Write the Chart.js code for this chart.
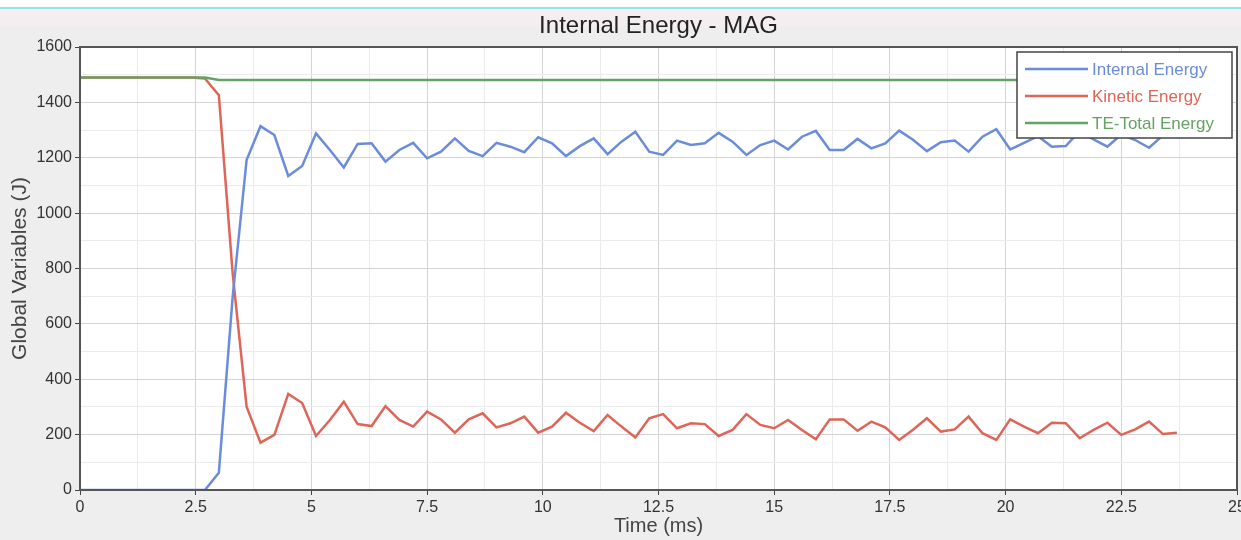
<!DOCTYPE html>
<html>
<head>
<meta charset="utf-8">
<script src="https://cdn.jsdelivr.net/npm/chart.js@4.4.1/dist/chart.umd.min.js"></script>
<style>
  html, body {
    margin: 0;
    padding: 0;
    width: 1241px;
    height: 540px;
    overflow: hidden;
    font-family: 'Liberation Sans', Arial, sans-serif;
    background: linear-gradient(to bottom, #ffffff 0 7px, #93e6e3 7px 9px, #f4eef1 9px 26px, #eeeeee 26px);
  }
  #wrap { position: relative; width: 1241px; height: 540px; }
</style>
</head>
<body>
<div id="wrap"><canvas id="energyChart"></canvas></div>
<script>
// values (time step ~0.3 ms)
const timeMs = [
  0, 0.3, 0.6, 0.9, 1.2, 1.5, 1.8, 2.1, 2.4, 2.7,
  3.0, 3.3, 3.6, 3.9, 4.2, 4.5, 4.8, 5.1, 5.4, 5.7,
  6.0, 6.3, 6.6, 6.9, 7.2, 7.5, 7.8, 8.1, 8.4, 8.7,
  9.0, 9.3, 9.6, 9.9, 10.2, 10.5, 10.8, 11.1, 11.4, 11.7,
  12.0, 12.3, 12.6, 12.9, 13.2, 13.5, 13.8, 14.1, 14.4, 14.7,
  15.0, 15.3, 15.6, 15.9, 16.2, 16.5, 16.8, 17.1, 17.4, 17.7,
  18.0, 18.3, 18.6, 18.9, 19.2, 19.5, 19.8, 20.1, 20.4, 20.7,
  21.0, 21.3, 21.6, 21.9, 22.2, 22.5, 22.8, 23.1, 23.4, 23.7,
];

const internalEnergy = [
  0, 0, 0, 0, 0, 0, 0, 0, 0, 0,
  62, 700, 1192, 1314, 1282, 1134, 1170, 1288, 1228, 1165,
  1250, 1252, 1186, 1228, 1254, 1198, 1222, 1270, 1225, 1206,
  1254, 1240, 1220, 1274, 1252, 1206, 1242, 1270, 1213, 1258,
  1294, 1222, 1210, 1262, 1246, 1252, 1290, 1258, 1210, 1246,
  1262, 1230, 1276, 1297, 1228, 1228, 1268, 1234, 1252, 1298,
  1265, 1224, 1256, 1262, 1222, 1276, 1303, 1230, 1254, 1278,
  1240, 1242, 1296, 1266, 1240, 1284, 1264, 1236, 1281, 1276,
];

const kineticEnergy = [
  1490, 1490, 1490, 1490, 1490, 1490, 1490, 1490, 1490, 1486,
  1426, 780, 301, 171, 199, 347, 314, 195, 253, 319,
  238, 231, 303, 253, 229, 283, 255, 207, 255, 277,
  226, 241, 265, 207, 229, 279, 243, 213, 271, 229,
  190, 259, 274, 223, 241, 238, 195, 217, 274, 235,
  223, 253, 217, 183, 255, 255, 214, 247, 226, 181,
  218, 259, 211, 219, 265, 205, 181, 255, 229, 205,
  243, 241, 187, 217, 243, 199, 219, 247, 202, 207,
];

const totalEnergy = [
  1490, 1490, 1490, 1490, 1490, 1490, 1490, 1490, 1490, 1490,
  1481, 1481, 1481, 1481, 1481, 1481, 1481, 1481, 1481, 1481,
  1481, 1481, 1481, 1481, 1481, 1481, 1481, 1481, 1481, 1481,
  1481, 1481, 1481, 1481, 1481, 1481, 1481, 1481, 1481, 1481,
  1481, 1481, 1481, 1481, 1481, 1481, 1481, 1481, 1481, 1481,
  1481, 1481, 1481, 1481, 1481, 1481, 1481, 1481, 1481, 1481,
  1481, 1481, 1481, 1481, 1481, 1481, 1481, 1481, 1481, 1481,
  1481, 1481, 1481, 1481, 1481, 1481, 1481, 1481, 1481, 1481,
];

const seriesNames = ['Internal Energy', 'Kinetic Energy', 'TE-Total Energy'];
const seriesColors = ['#6a8cda', '#de6557', '#66a266'];
const chartTitle = 'Internal Energy - MAG';

const toPoints = (ys) => ys.map((y, i) => ({ x: timeMs[i], y }));

const isMultiple = (v, step) => Math.abs(v / step - Math.round(v / step)) < 1e-6;

// white plot area, frame, title and boxed legend
const framePlugin = {
  id: 'frame',
  beforeDraw(chart) {
    const { ctx, chartArea: a } = chart;
    ctx.save();
    ctx.fillStyle = '#ffffff';
    ctx.fillRect(a.left, a.top, a.right - a.left, a.bottom - a.top);
    ctx.restore();
  },
  afterDraw(chart) {
    const { ctx, chartArea: a } = chart;
    ctx.save();
    ctx.strokeStyle = '#555555';
    ctx.lineWidth = 2;
    ctx.strokeRect(a.left, a.top, a.right - a.left, a.bottom - a.top);

    // title
    ctx.fillStyle = '#222222';
    ctx.font = '24px "Liberation Sans", Arial, sans-serif';
    ctx.textAlign = 'center';
    ctx.textBaseline = 'middle';
    ctx.fillText(chartTitle, (a.left + a.right) / 2, 26);

    // legend box
    const bx = 1017, by = 52, bw = 215, bh = 86;
    ctx.fillStyle = '#ffffff';
    ctx.fillRect(bx, by, bw, bh);
    ctx.strokeStyle = '#444444';
    ctx.lineWidth = 1.5;
    ctx.strokeRect(bx, by, bw, bh);
    ctx.font = '17px "Liberation Sans", Arial, sans-serif';
    ctx.textAlign = 'left';
    chart.data.datasets.forEach((ds, i) => {
      const y = 69 + i * 27;
      ctx.strokeStyle = ds.borderColor;
      ctx.lineWidth = 2.5;
      ctx.beginPath();
      ctx.moveTo(1025, y);
      ctx.lineTo(1088, y);
      ctx.stroke();
      ctx.fillStyle = ds.borderColor;
      ctx.fillText(ds.label, 1092, y + 1);
    });
    ctx.restore();
  },
};

function initChart() {
  const ctx = document.getElementById('energyChart');

  new Chart(ctx, {
    type: 'line',
    data: {
      datasets: [
        { label: seriesNames[0], data: toPoints(internalEnergy), borderColor: seriesColors[0], order: 1 },
        { label: seriesNames[1], data: toPoints(kineticEnergy), borderColor: seriesColors[1], order: 2 },
        { label: seriesNames[2], data: toPoints(totalEnergy), borderColor: seriesColors[2], order: 0 },
      ],
    },
    options: {
      responsive: true,
      maintainAspectRatio: false,
      animation: false,
      parsing: false,
      layout: { padding: { top: 47, right: 4, bottom: 0, left: 0 } },
      elements: {
        line: { borderWidth: 2.5, tension: 0, fill: false },
        point: { radius: 0 },
      },
      scales: {
        x: {
          type: 'linear',
          min: 0,
          max: 25,
          afterFit: (s) => { s.height = 50; s.paddingLeft = 0; s.paddingRight = 0; },
          ticks: {
            stepSize: 1.25,
            autoSkip: false,
            maxRotation: 0,
            padding: 3,
            color: '#333333',
            font: { family: '"Liberation Sans", Arial, sans-serif', size: 16 },
            callback: (v) => (isMultiple(v, 2.5) ? String(v) : ''),
          },
          grid: {
            tickLength: 5,
            color: (c) => (isMultiple(c.tick.value, 2.5) ? '#d4d4d4' : '#ebebeb'),
            tickColor: (c) => (isMultiple(c.tick.value, 2.5) ? '#444444' : 'rgba(0,0,0,0)'),
          },
          border: { display: false },
          title: {
            display: true,
            text: 'Time (ms)',
            color: '#444444',
            font: { family: '"Liberation Sans", Arial, sans-serif', size: 20 },
            padding: { top: 0, bottom: 2 },
          },
        },
        y: {
          type: 'linear',
          min: 0,
          max: 1600,
          afterFit: (s) => { s.width = 80; s.paddingTop = 0; s.paddingBottom = 0; },
          ticks: {
            stepSize: 100,
            autoSkip: false,
            padding: 3,
            color: '#333333',
            font: { family: '"Liberation Sans", Arial, sans-serif', size: 16 },
            callback: (v) => (v % 200 === 0 ? String(v) : ''),
          },
          grid: {
            tickLength: 5,
            color: (c) => (c.tick.value % 200 === 0 ? '#d4d4d4' : '#ebebeb'),
            tickColor: (c) => (c.tick.value % 200 === 0 ? '#444444' : 'rgba(0,0,0,0)'),
          },
          border: { display: false },
          title: {
            display: true,
            text: 'Global Variables (J)',
            color: '#444444',
            font: { family: '"Liberation Sans", Arial, sans-serif', size: 21 },
            padding: { top: 8, bottom: 0 },
          },
        },
      },
      plugins: {
        legend: { display: false },
        title: { display: false },
        tooltip: { enabled: false },
      },
    },
    plugins: [framePlugin],
  });
}

document.addEventListener('DOMContentLoaded', initChart);
</script>
</body>
</html>
